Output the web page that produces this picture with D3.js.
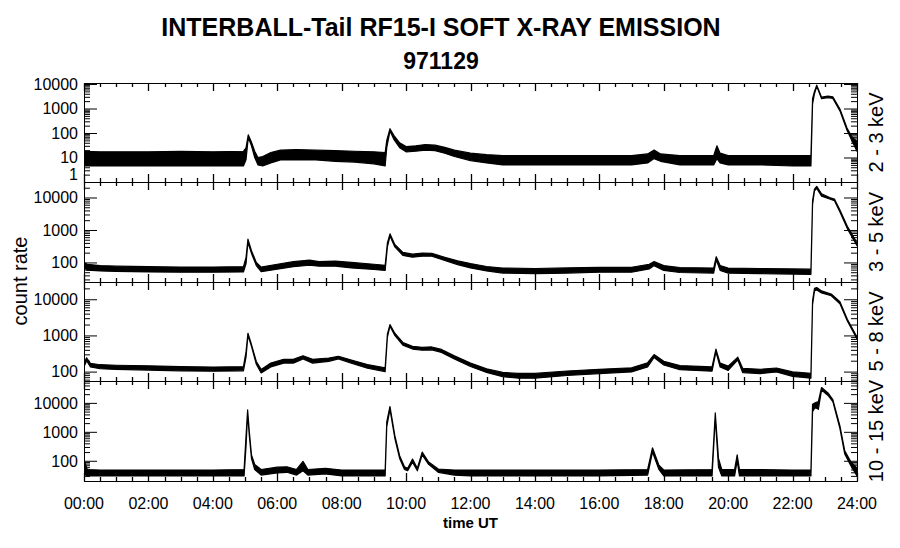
<!DOCTYPE html>
<html><head><meta charset="utf-8">
<script src="https://cdn.jsdelivr.net/npm/d3@7"></script>
<style>body{margin:0;background:#fff} text{font-family:"Liberation Sans",Arial,Helvetica,sans-serif}</style>
</head><body><svg id="c" width="900" height="548"></svg>
<script>
// ---------------- DATA ----------------
const titleLines = ["INTERBALL-Tail RF15-I SOFT X-RAY EMISSION", "971129"];
const hourTickLabels = ["00:00","02:00","04:00","06:00","08:00","10:00","12:00","14:00","16:00","18:00","20:00","22:00","24:00"];
const channelLabels = ["2 - 3 keV","3 - 5 keV","5 - 8 keV","10 - 15 keV"];
const yDomains = [[1,11000],[25,30000],[55,30000],[20,57000]];
const yTickLabels = [[1,10,100,1000,10000],[100,1000,10000],[100,1000,10000],[100,1000,10000]];

// [hour, low, high] envelope of the count rate
const band23 = [[0,4.5,18],[0.5,4.5,17],[1,4.5,17],[2,4.5,17],[3,4.5,18],[4,4.5,17],[4.95,4.5,18],
 [5.03,8,25],[5.1,65,85],[5.2,30,42],[5.3,10,18],[5.4,5,10],[5.55,4.5,11],[5.8,6,16],[6.1,8,20],[6.6,8,21],
 [7.2,8,20],[7.8,7,19],[8.4,6.5,18],[9.0,5.5,17],[9.35,4.5,16],[9.4,25,50],[9.5,120,150],[9.62,55,80],
 [9.8,25,40],[10.0,17,28],[10.3,18,30],[10.6,20,34],[10.9,19,32],[11.2,15,26],[11.5,11,20],[12.0,7.5,15],
 [12.5,6,13],[13,5,12],[14,5,12],[15,5,12],[16,5,12],[17,5,12],[17.5,6,14],[17.7,9,20],[17.9,7,14],
 [18.5,5,12],[19.55,5,12],[19.65,9,30],[19.75,6,15],[20,5,12],[21,5,12],[22,4.5,12],[22.57,4.5,12],
 [22.62,1500,2500],[22.68,4000,5000],[22.75,8000,9000],[22.9,2500,2900],[23.1,2800,3200],[23.25,2600,3000],
 [23.47,800,950],[23.69,130,160],[23.84,50,70],[24,18,45]];

const band35 = [[0,68,100],[0.1,58,88],[0.5,55,80],[1,53,77],[2,51,74],[3,50,72],[4,50,72],[4.95,51,74],
 [5.03,90,140],[5.09,420,520],[5.2,190,230],[5.35,80,100],[5.5,52,72],[6.0,62,88],[6.5,74,106],
 [7.0,82,118],[7.3,77,106],[7.8,77,110],[8.3,68,100],[9.0,61,88],[9.35,57,82],[9.42,300,400],[9.5,650,760],
 [9.65,300,360],[9.9,165,205],[10.2,145,180],[10.5,155,195],[10.8,155,190],[11.2,115,145],[11.6,86,112],
 [12.0,68,92],[12.5,55,75],[13,47,67],[14,45,65],[15,47,68],[16,50,71],[17,50,71],[17.55,63,88],
 [17.7,80,106],[18.0,57,80],[18.5,49,70],[19.55,47,67],[19.63,120,150],[19.75,57,80],[20,47,67],
 [21,45,65],[22,44,63],[22.57,43,62],[22.62,6000,8000],[22.68,16000,18000],[22.75,19000,22000],
 [22.9,11000,13000],[23.15,9000,10000],[23.3,8000,9000],[23.47,3600,4100],[23.7,1100,1300],[24,330,400]];

const band58 = [[0,135,170],[0.08,200,240],[0.2,135,168],[0.5,120,155],[1,115,150],[2,110,145],[3,105,138],
 [4,103,134],[4.95,105,137],[5.03,250,350],[5.09,1000,1150],[5.2,500,560],[5.35,160,190],[5.5,92,115],
 [5.8,135,172],[6.2,172,218],[6.5,172,218],[6.8,225,275],[7.1,172,218],[7.6,192,238],[7.9,225,265],
 [8.3,172,208],[8.8,124,156],[9.35,100,128],[9.42,900,1100],[9.5,1800,2000],[9.65,1000,1150],
 [9.9,540,640],[10.2,420,500],[10.5,390,470],[10.8,400,480],[11.1,340,410],[11.5,222,272],[12.0,138,172],
 [12.5,95,120],[13,72,95],[13.5,66,89],[14,66,89],[15,78,104],[16,88,116],[17,98,128],[17.5,134,176],
 [17.7,245,295],[18.0,152,192],[18.5,113,147],[19.5,103,135],[19.62,350,420],[19.75,134,172],
 [20.0,108,142],[20.3,210,250],[20.45,94,124],[21,88,116],[21.5,98,126],[22,74,98],[22.57,66,90],
 [22.62,7000,9000],[22.68,17000,20000],[22.75,18000,21000],[22.9,15000,17000],[23.2,12500,14000],
 [23.47,7500,8500],[23.7,2500,2800],[24,800,900]];

const band1015 = [[0,35,110],[0.1,30,50],[0.5,30,48],[1,30,48],[2,30,48],[3,30,48],[4,30,48],[4.97,30,50],
 [5.03,300,700],[5.08,4200,5800],[5.13,800,1100],[5.2,120,160],[5.3,50,75],[5.5,32,50],[6.0,38,60],
 [6.3,40,62],[6.6,32,50],[6.8,45,95],[6.95,32,50],[7.5,35,55],[8,30,48],[9,30,48],[9.35,30,48],
 [9.4,1500,2200],[9.5,6000,7500],[9.65,600,750],[9.8,120,150],[9.95,50,62],[10.05,45,55],[10.2,90,115],
 [10.35,45,55],[10.5,160,200],[10.7,75,90],[11.0,40,52],[11.5,32,48],[12,30,48],[14,30,48],[16,30,48],
 [17.5,32,50],[17.65,200,280],[17.85,50,70],[18,30,48],[19.5,30,50],[19.6,3000,4500],[19.7,60,120],
 [19.8,30,50],[20.2,30,50],[20.28,100,160],[20.35,30,50],[22,30,48],[22.57,30,48],[22.62,5000,9000],
 [22.7,7000,10000],[22.8,6000,11000],[22.9,28000,34000],[23.1,18000,22000],[23.25,11000,13000],
 [23.47,1300,1600],[23.62,170,220],[23.8,70,95],[24,30,55]];

const series = [band23, band35, band58, band1015];

// ---------------- LAYOUT ----------------
const L = 84, R = 857;
const panels = [{top:83,bot:182},{top:182,bot:282},{top:282,bot:381},{top:381,bot:481}];
const svg = d3.select("#c");
const x = d3.scaleLinear().domain([0,24]).range([L,R]);
const majorHours = d3.range(0,25,2), minorHours = d3.range(0,24.01,0.5).filter(h=>h%2!==0);

function clean(g){ g.select(".domain").remove(); g.selectAll("text").remove(); g.selectAll("line").attr("stroke","#000").attr("stroke-width",1); }

panels.forEach((p,i)=>{
  const y = d3.scaleLog().domain(yDomains[i]).range([p.bot,p.top]);
  const cid = "clip"+i;
  svg.append("clipPath").attr("id",cid).append("rect")
    .attr("x",L).attr("y",p.top).attr("width",R-L).attr("height",p.bot-p.top);
  const area = d3.area().x(d=>x(d[0])).y0(d=>y(d[1])).y1(d=>y(d[2]));
  svg.append("path").datum(series[i]).attr("d",area)
    .attr("fill","#000").attr("stroke","#000").attr("stroke-width",1.2)
    .attr("stroke-linejoin","round").attr("clip-path",`url(#${cid})`);

  // x ticks (inward, top & bottom)
  const xt = svg.append("g").attr("stroke","#000").attr("stroke-width",1.3);
  const tickData = majorHours.map(h=>({h,len:8})).concat(minorHours.map(h=>({h,len:4})));
  xt.selectAll(null).data(tickData).enter().append("line")
    .attr("x1",d=>Math.round(x(d.h))+0.5).attr("x2",d=>Math.round(x(d.h))+0.5)
    .attr("y1",p.top).attr("y2",d=>p.top+d.len);
  xt.selectAll(null).data(tickData).enter().append("line")
    .attr("x1",d=>Math.round(x(d.h))+0.5).attr("x2",d=>Math.round(x(d.h))+0.5)
    .attr("y1",p.bot).attr("y2",d=>p.bot-d.len);

  // y ticks (inward, left & right)
  const [d0,d1] = yDomains[i];
  const majors = [], minors = [];
  for(let e=Math.floor(Math.log10(d0)); e<=Math.ceil(Math.log10(d1)); e++){
    for(let k=1;k<10;k++){ const v=k*Math.pow(10,e); if(v>=d0-1e-9 && v<=d1){ (k===1?majors:minors).push(v);} }
  }
  svg.append("g").attr("transform",`translate(${L},0)`).call(d3.axisLeft(y).tickValues(majors).tickSize(-13)).call(clean);
  svg.append("g").attr("transform",`translate(${L},0)`).call(d3.axisLeft(y).tickValues(minors).tickSize(-6)).call(clean);
  svg.append("g").attr("transform",`translate(${R},0)`).call(d3.axisRight(y).tickValues(majors).tickSize(-13)).call(clean);
  svg.append("g").attr("transform",`translate(${R},0)`).call(d3.axisRight(y).tickValues(minors).tickSize(-6)).call(clean);

  // frame
  svg.append("rect").attr("x",L+0.5).attr("y",p.top+0.5).attr("width",R-L).attr("height",p.bot-p.top)
    .attr("fill","none").attr("stroke","#000").attr("stroke-width",1);

  // y labels
  svg.selectAll(null).data(yTickLabels[i]).enter().append("text")
    .attr("x",L-6).attr("y",v=>Math.min(y(v), p.bot-8)).attr("dy","0.36em")
    .attr("text-anchor","end").attr("font-size",16).text(v=>String(v));

  // channel label
  svg.append("text").attr("transform",`translate(876,${(p.top+p.bot)/2}) rotate(-90)`)
    .attr("text-anchor","middle").attr("dy","0.36em").attr("font-size",20).text(channelLabels[i]);
});

// x tick labels
svg.selectAll(null).data(hourTickLabels).enter().append("text")
  .attr("x",(d,i)=>x(majorHours[i])).attr("y",509).attr("text-anchor","middle")
  .attr("font-size",16).text(d=>d);

svg.append("text").attr("x",(L+R)/2).attr("y",528).attr("text-anchor","middle")
  .attr("font-size",15).attr("font-weight","bold").text("time UT");

svg.append("text").attr("transform",`translate(20,281) rotate(-90)`).attr("text-anchor","middle")
  .attr("dy","0.36em").attr("font-size",20).text("count rate");

svg.append("text").attr("x",441).attr("y",36).attr("text-anchor","middle")
  .attr("font-size",25).attr("font-weight","bold").text(titleLines[0]);
svg.append("text").attr("x",441).attr("y",69).attr("text-anchor","middle")
  .attr("font-size",23).attr("font-weight","bold").text(titleLines[1]);
</script></body></html>
